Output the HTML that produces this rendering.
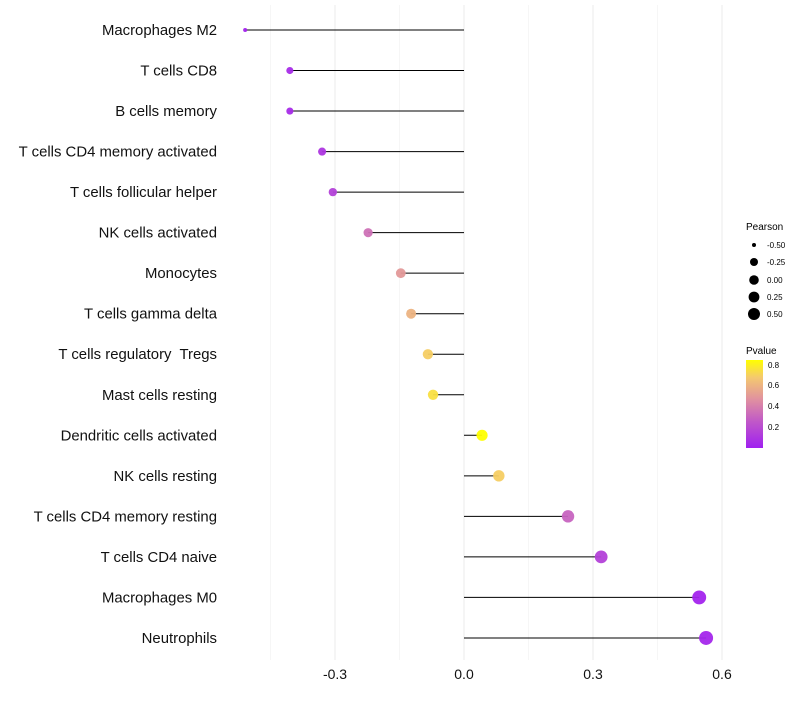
<!DOCTYPE html>
<html><head><meta charset="utf-8"><style>
body{margin:0;background:#fff;font-family:"Liberation Sans",sans-serif}
</style></head><body>
<svg id="chart" width="800" height="700" xmlns="http://www.w3.org/2000/svg" font-family="Liberation Sans, sans-serif">
<defs><linearGradient id="pg" x1="0" y1="1" x2="0" y2="0">
<stop offset="0" stop-color="#A020F0"/><stop offset="0.3" stop-color="#C058C8"/><stop offset="0.55" stop-color="#E090A0"/><stop offset="0.8" stop-color="#F4C870"/><stop offset="1" stop-color="#FFFF00"/></linearGradient></defs>
<g id="grid"></g><g id="marks"></g><g id="axes"></g>
<g>
<text x="746" y="230" font-size="10">Pearson</text>
<circle cx="754" cy="245" r="2" fill="#000"/><text x="767" y="248" font-size="8">-0.50</text>
<circle cx="754" cy="262" r="4" fill="#000"/><text x="767" y="265" font-size="8">-0.25</text>
<circle cx="754" cy="280" r="4.8" fill="#000"/><text x="767" y="283" font-size="8">0.00</text>
<circle cx="754" cy="297" r="5.4" fill="#000"/><text x="767" y="300" font-size="8">0.25</text>
<circle cx="754" cy="314" r="6" fill="#000"/><text x="767" y="317" font-size="8">0.50</text>
</g>
<g>
<text x="746" y="354" font-size="10">Pvalue</text>
<rect x="746" y="360" width="17" height="88" fill="url(#pg)"/>
<text x="768" y="368" font-size="8">0.8</text><text x="768" y="388" font-size="8">0.6</text>
<text x="768" y="409" font-size="8">0.4</text><text x="768" y="430" font-size="8">0.2</text>
</g>
</svg>
<script>
const categories=["Macrophages M2","T cells CD8","B cells memory","T cells CD4 memory activated","T cells follicular helper","NK cells activated","Monocytes","T cells gamma delta","T cells regulatory  Tregs","Mast cells resting","Dendritic cells activated","NK cells resting","T cells CD4 memory resting","T cells CD4 naive","Macrophages M0","Neutrophils"];
const pearson=[-0.509,-0.405,-0.405,-0.330,-0.305,-0.223,-0.147,-0.123,-0.084,-0.072,0.042,0.081,0.242,0.319,0.547,0.563];
const pvalue=[0.02,0.05,0.05,0.1,0.15,0.35,0.5,0.6,0.7,0.75,0.85,0.7,0.3,0.15,0.02,0.03];
const xTicks=[-0.3,0,0.3,0.6];
const xLabels=["-0.3","0.0","0.3","0.6"];
const NS="http://www.w3.org/2000/svg";
const X=v=>464+v*430, Y=i=>30+i*40.53;
function col(p){const t=Math.min(1,p/0.85);
const st=[[0,[160,32,240]],[0.3,[192,88,200]],[0.55,[224,144,160]],[0.8,[244,200,112]],[1,[255,255,0]]];
for(let k=1;k<st.length;k++){if(t<=st[k][0]){const a=st[k-1],b=st[k],f=(t-a[0])/(b[0]-a[0]);
return `rgb(${a[1].map((c,j)=>Math.round(c+(b[1][j]-c)*f)).join(',')})`;}}return 'rgb(255,255,0)';}
function mk(t,a,p){const e=document.createElementNS(NS,t);for(const k in a)e.setAttribute(k,a[k]);p.appendChild(e);return e;}
const g=document.getElementById('grid'),m=document.getElementById('marks'),ax=document.getElementById('axes');
[-0.45,-0.15,0.15,0.45].forEach(v=>{const l=mk('line',{x1:X(v),x2:X(v),y1:5,y2:660,stroke:'#f0f0f0','stroke-width':0.6},g);

});
xTicks.forEach((v,i)=>{const l=mk('line',{x1:X(v),x2:X(v),y1:5,y2:660,stroke:'#ebebeb','stroke-width':1},g);


const t=mk('text',{x:X(v),y:679,'font-size':14,'text-anchor':'middle',fill:'#111'},ax);t.textContent=xLabels[i];

});
const pmin=Math.min(...pearson),pmax=Math.max(...pearson);
categories.forEach((c,i)=>{
const t=mk('text',{x:217,y:Y(i)+5,'font-size':14.9,'text-anchor':'end',fill:'#111'},ax);t.textContent=c;
t.setAttribute('style','white-space:pre');


const l=mk('line',{x1:X(0),x2:X(pearson[i]),y1:Y(i),y2:Y(i),stroke:'#000','stroke-width':1},m);


const tt=(pearson[i]-pmin)/(pmax-pmin);
const r=2+5*Math.sqrt(tt);
const d=mk('circle',{cx:X(pearson[i]),cy:Y(i),r:r,fill:col(pvalue[i]),'fill-opacity':0.95},m);

});
</script>
</body></html>
